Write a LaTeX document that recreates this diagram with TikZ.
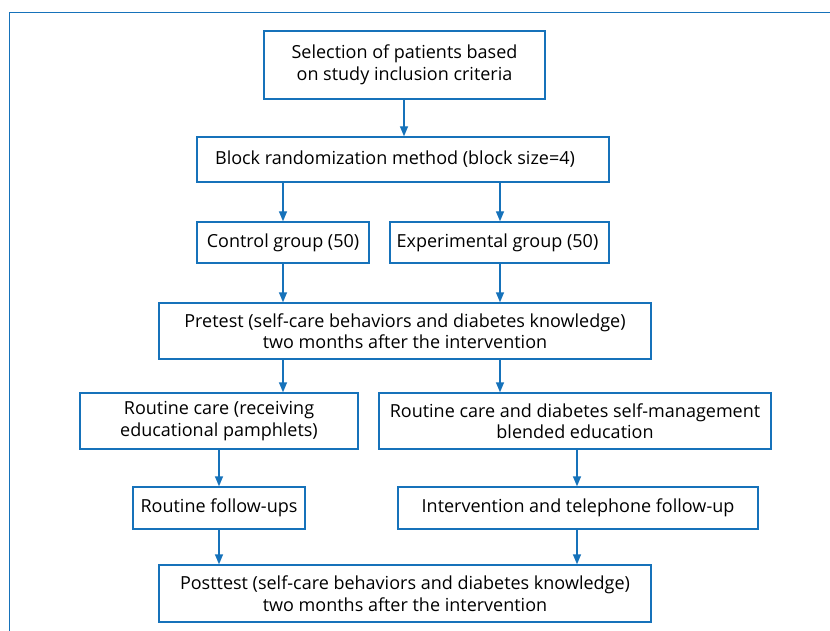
\documentclass[tikz,border=0pt]{standalone}
\usepackage{fontspec}
\setmainfont{Open Sans}
\usetikzlibrary{arrows.meta}
\definecolor{fblue}{RGB}{22,114,186}
\tikzset{
  box/.style={draw=fblue, line width=1.4pt, align=center, inner sep=0pt,
    font=\fontsize{18}{21.5}\selectfont, text=black},
  arr/.style={draw=fblue, line width=1.4pt, -{Triangle[length=10pt,width=8pt]}},
}
\begin{document}
\begin{tikzpicture}[x=1pt,y=-1pt]
\useasboundingbox (0,0) rectangle (830,631);
\draw[fblue, line width=1pt] (9,640) -- (9,13) -- (840,13);

\node[box, minimum width=281, minimum height=68] (sel) at (404.5,65) {Selection of patients based\\on study inclusion criteria};
\node[box, minimum width=412, minimum height=45] (block) at (403,159.5) {Block randomization method (block size=4)\hspace*{16pt}};
\node[box, minimum width=172, minimum height=41] (ctrl) at (283,242.5) {Control group (50)};
\node[box, minimum width=219, minimum height=41] (exp) at (499.5,242.5) {Experimental group (50)\hspace*{4pt}};
\node[box, minimum width=492, minimum height=56] (pre) at (405,331) {Pretest (self-care behaviors and diabetes knowledge)\\two months after the intervention};
\node[box, minimum width=278, minimum height=56] (rc) at (219,421) {Routine care (receiving\\educational pamphlets)};
\node[box, minimum width=392, minimum height=56] (rcd) at (575,421) {Routine care and diabetes self-management\\blended education};
\node[box, minimum width=172, minimum height=42] (rf) at (219,508) {Routine follow-ups};
\node[box, minimum width=360, minimum height=42] (itv) at (578,508) {Intervention and telephone follow-up};
\node[box, minimum width=492, minimum height=57] (post) at (405,593.5) {Posttest (self-care behaviors and diabetes knowledge)\\two months after the intervention};

\coordinate (xa) at (404,0);
\coordinate (xb) at (283,0);
\coordinate (xc) at (500,0);
\coordinate (xd) at (219,0);
\coordinate (xe) at (577,0);

\draw[arr] (sel.south -| xa) -- (block.north -| xa);
\draw[arr] (block.south -| xb) -- (ctrl.north -| xb);
\draw[arr] (block.south -| xc) -- (exp.north -| xc);
\draw[arr] (ctrl.south -| xb) -- (pre.north -| xb);
\draw[arr] (exp.south -| xc) -- (pre.north -| xc);
\draw[arr] (pre.south -| xb) -- (rc.north -| xb);
\draw[arr] (pre.south -| xc) -- (rcd.north -| xc);
\draw[arr] (rc.south -| xd) -- (rf.north -| xd);
\draw[arr] (rcd.south -| xe) -- (itv.north -| xe);
\draw[arr] (rf.south -| xd) -- (post.north -| xd);
\draw[arr] (itv.south -| xe) -- (post.north -| xe);
\end{tikzpicture}
\end{document}
